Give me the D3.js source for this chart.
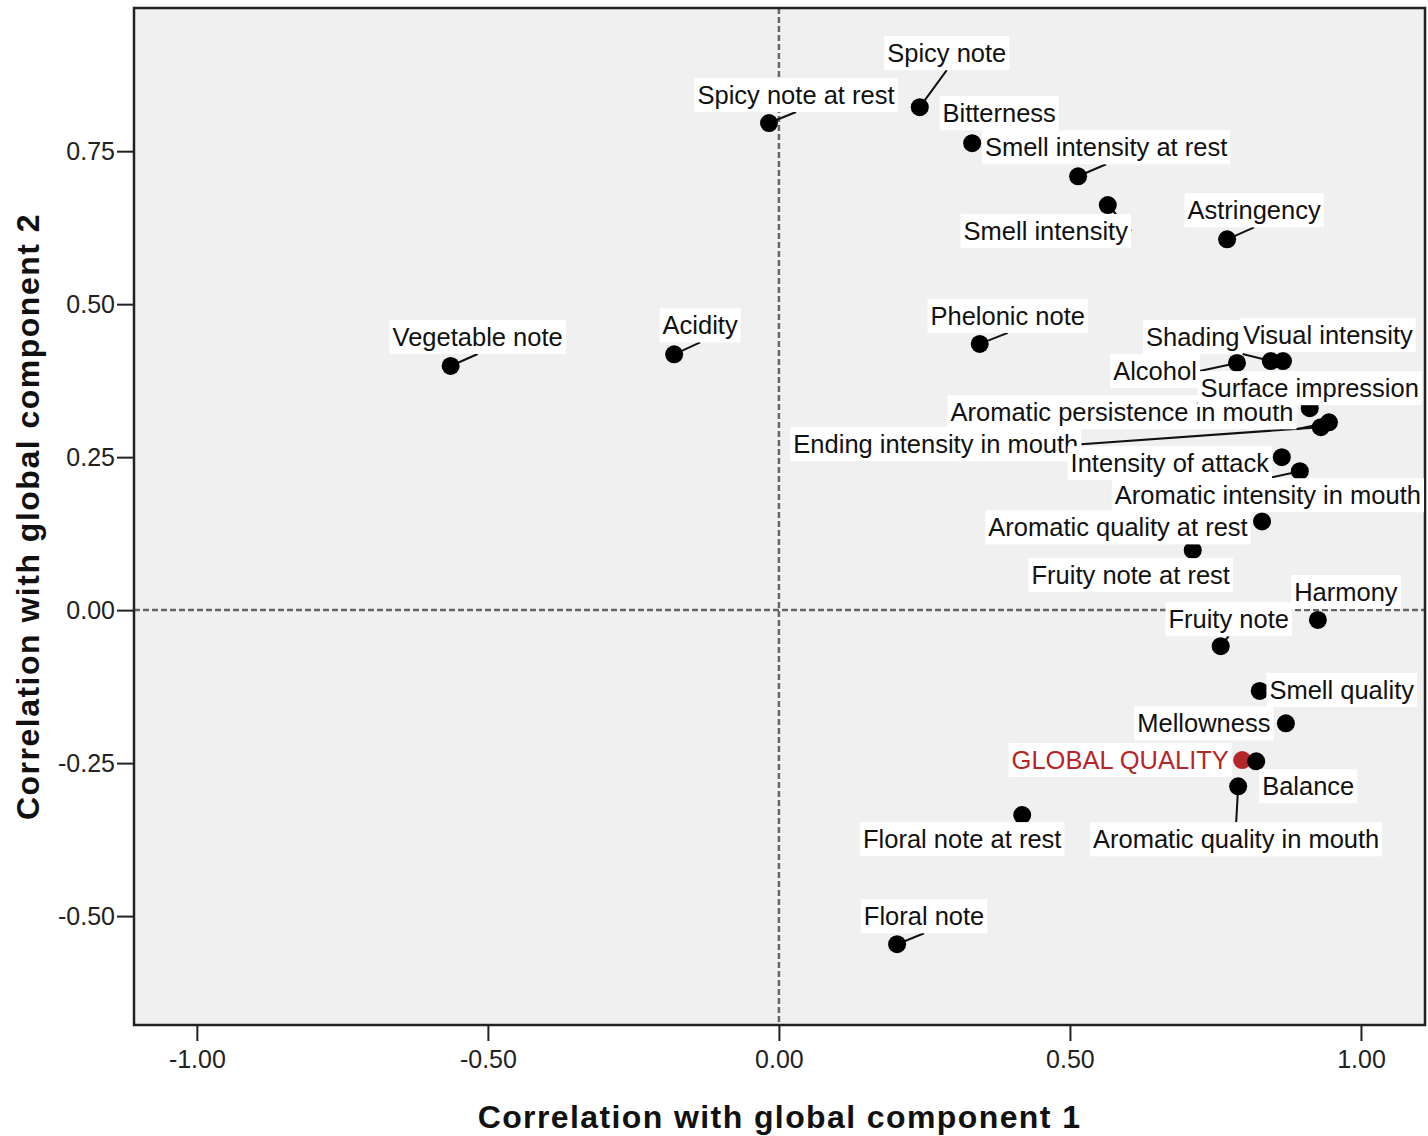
<!DOCTYPE html>
<html>
<head>
<meta charset="utf-8">
<script src="https://cdn.jsdelivr.net/npm/d3@7"></script>
<style>
  body { margin: 0; background: #fff; }
  svg { font-family: "Liberation Sans", Arial, sans-serif; }
</style>
</head>
<body>
<div id="chart"></div>
<script>
// attribute names
var names = [
  "Spicy note", "Spicy note at rest", "Bitterness", "Smell intensity at rest",
  "Smell intensity", "Astringency", "Phelonic note", "Acidity", "Vegetable note",
  "Shading", "Visual intensity", "Alcohol", "Surface impression",
  "Aromatic persistence in mouth", "Ending intensity in mouth", "Intensity of attack",
  "Aromatic intensity in mouth", "Aromatic quality at rest", "Fruity note at rest",
  "Harmony", "Fruity note", "Smell quality", "Mellowness", "GLOBAL QUALITY",
  "Balance", "Aromatic quality in mouth", "Floral note at rest", "Floral note"
];

// correlation with global component 1
var comp1 = [
  0.242, -0.017, 0.332, 0.514, 0.565, 0.770, 0.345, -0.180, -0.564,
  0.845, 0.866, 0.787, 0.912, 0.945, 0.931, 0.864, 0.895, 0.830, 0.711,
  0.926, 0.759, 0.826, 0.871, 0.796, 0.820, 0.789, 0.418, 0.203
];

// correlation with global component 2
var comp2 = [
  0.822, 0.796, 0.763, 0.709, 0.662, 0.606, 0.435, 0.418, 0.399,
  0.407, 0.407, 0.404, 0.330, 0.307, 0.299, 0.250, 0.227, 0.145, 0.098,
  -0.016, -0.059, -0.132, -0.185, -0.245, -0.247, -0.288, -0.335, -0.546
];

var xTicks = [-1, -0.5, 0, 0.5, 1];
var yTicks = [0.75, 0.5, 0.25, 0, -0.25, -0.5];

// label placement (pixel offset of label centre from its point) and whether a leader line is drawn
var labelOffset = [
  [27, -54], [27, -28], [27, -30], [28, -29], [-62, 26], [27, -29], [28, -28], [26, -29], [27, -29],
  [-78, -24], [45, -26], [-82, 8], [0, -20], [-207, -10], [-385, 17], [-112, 6], [-32, 24],
  [-144, 6], [-62, 25], [28, -28], [8, -27], [82, -1], [-82, 0], [-122, 0], [52, 25],
  [-2, 53], [-60, 24], [27, -28]
];
var leader = [
  1, 1, 0, 1, 1, 1, 1, 1, 1,
  1, 0, 1, 0, 1, 1, 0, 1,
  0, 0, 0, 1, 0, 0, 0, 0,
  1, 0, 1
];

var width = 1428, height = 1136;
var plot = {left: 134, right: 1425, top: 8, bottom: 1025};

var svg = d3.select("#chart").append("svg")
  .attr("width", width)
  .attr("height", height);

var x = d3.scaleLinear().domain([-1.108, 1.110]).range([plot.left, plot.right]);
var y = d3.scaleLinear().domain([-0.678, 0.984]).range([plot.bottom, plot.top]);

// plot background
svg.append("rect")
  .attr("x", plot.left).attr("y", plot.top)
  .attr("width", plot.right - plot.left)
  .attr("height", plot.bottom - plot.top)
  .attr("fill", "#f0f0f0");

// reference lines
svg.append("line")
  .attr("x1", x(0)).attr("x2", x(0))
  .attr("y1", plot.top).attr("y2", plot.bottom)
  .attr("stroke", "#666").attr("stroke-width", 2.5)
  .attr("stroke-dasharray", "6,3");
svg.append("line")
  .attr("x1", plot.left).attr("x2", plot.right)
  .attr("y1", y(0)).attr("y2", y(0))
  .attr("stroke", "#666").attr("stroke-width", 2.5)
  .attr("stroke-dasharray", "6,3");

// axes (hyphen minus like the original)
var fmt = function(d) { return d.toFixed(2); };
var xAxis = svg.append("g")
  .attr("transform", `translate(0,${plot.bottom})`)
  .call(d3.axisBottom(x).tickValues(xTicks).tickFormat(fmt).tickSize(16).tickPadding(9));
var yAxis = svg.append("g")
  .attr("transform", `translate(${plot.left},0)`)
  .call(d3.axisLeft(y).tickValues(yTicks).tickFormat(fmt).tickSize(17).tickPadding(2));

[xAxis, yAxis].forEach(function(a) {
  a.select(".domain").remove();
  a.selectAll(".tick line").attr("stroke", "#222").attr("stroke-width", 2);
  a.selectAll(".tick text")
    .attr("fill", "#222")
    .style("font-size", "25px")
    .style("font-family", "Liberation Sans, Arial, sans-serif");
});

// frame
svg.append("rect")
  .attr("x", plot.left).attr("y", plot.top)
  .attr("width", plot.right - plot.left)
  .attr("height", plot.bottom - plot.top)
  .attr("fill", "none")
  .attr("stroke", "#222").attr("stroke-width", 2.5);

// axis titles
svg.append("text")
  .attr("x", (plot.left + plot.right) / 2)
  .attr("y", 1128)
  .attr("text-anchor", "middle")
  .style("font-size", "32px").style("font-weight", "bold")
  .style("letter-spacing", "1.4px")
  .attr("fill", "#111")
  .text("Correlation with global component 1");

svg.append("text")
  .attr("transform", `translate(39,${(plot.top + plot.bottom) / 2}) rotate(-90)`)
  .attr("text-anchor", "middle")
  .style("font-size", "32px").style("font-weight", "bold")
  .style("letter-spacing", "1.5px")
  .attr("fill", "#111")
  .text("Correlation with global component 2");

// build point table
var points = names.map(function(n, i) {
  return {name: n, c1: comp1[i], c2: comp2[i], dx: labelOffset[i][0], dy: labelOffset[i][1], lead: leader[i]};
});

var labelLayer = svg.append("g");
var lineLayer = svg.insert("g", function() { return labelLayer.node(); });
var dotLayer = svg.insert("g", function() { return labelLayer.node(); });

// labels with white boxes
var labels = labelLayer.selectAll("g")
  .data(points)
  .enter().append("g");

labels.append("rect").attr("fill", "#fff");
labels.append("text")
  .attr("text-anchor", "middle")
  .attr("dominant-baseline", "central")
  .style("font-size", "25.5px")
  .attr("fill", function(d) { return d.name == "GLOBAL QUALITY" ? "#b5262b" : "#111"; })
  .attr("x", function(d) { return x(d.c1) + d.dx; })
  .attr("y", function(d) { return y(d.c2) + d.dy; })
  .text(function(d) { return d.name; });

labels.each(function(d) {
  var g = d3.select(this);
  var w = g.select("text").node().getComputedTextLength();
  var cx = x(d.c1) + d.dx, cy = y(d.c2) + d.dy;
  d.box = {x0: cx - w / 2 - 3, x1: cx + w / 2 + 3, y0: cy - 17, y1: cy + 17};
  g.select("rect")
    .attr("x", d.box.x0).attr("y", d.box.y0)
    .attr("width", d.box.x1 - d.box.x0)
    .attr("height", d.box.y1 - d.box.y0);
});

// Surface impression sits on top of its neighbour
labels.filter(function(d) { return d.name == "Surface impression"; }).raise();

// leader lines: from point to nearest side midpoint of the label box
lineLayer.selectAll("line")
  .data(points.filter(function(d) { return d.lead; }))
  .enter().append("line")
  .each(function(d) {
    var px = x(d.c1), py = y(d.c2), b = d.box;
    var mx = (b.x0 + b.x1) / 2, my = (b.y0 + b.y1) / 2;
    var anchors = [[mx, b.y0], [mx, b.y1], [b.x0, my], [b.x1, my], [b.x1, b.y1]];
    var best = anchors[0], bd = Infinity;
    anchors.forEach(function(a) {
      var dd = Math.hypot(a[0] - px, a[1] - py);
      if (dd < bd) { bd = dd; best = a; }
    });
    d3.select(this)
      .attr("x1", px).attr("y1", py)
      .attr("x2", best[0]).attr("y2", best[1]);
  })
  .attr("stroke", "#111")
  .attr("stroke-width", 2);

// dots
dotLayer.selectAll("circle")
  .data(points)
  .enter().append("circle")
  .attr("cx", function(d) { return x(d.c1); })
  .attr("cy", function(d) { return y(d.c2); })
  .attr("r", 9)
  .attr("fill", function(d) { return d.name == "GLOBAL QUALITY" ? "#b5262b" : "#000"; });
</script>
</body>
</html>
